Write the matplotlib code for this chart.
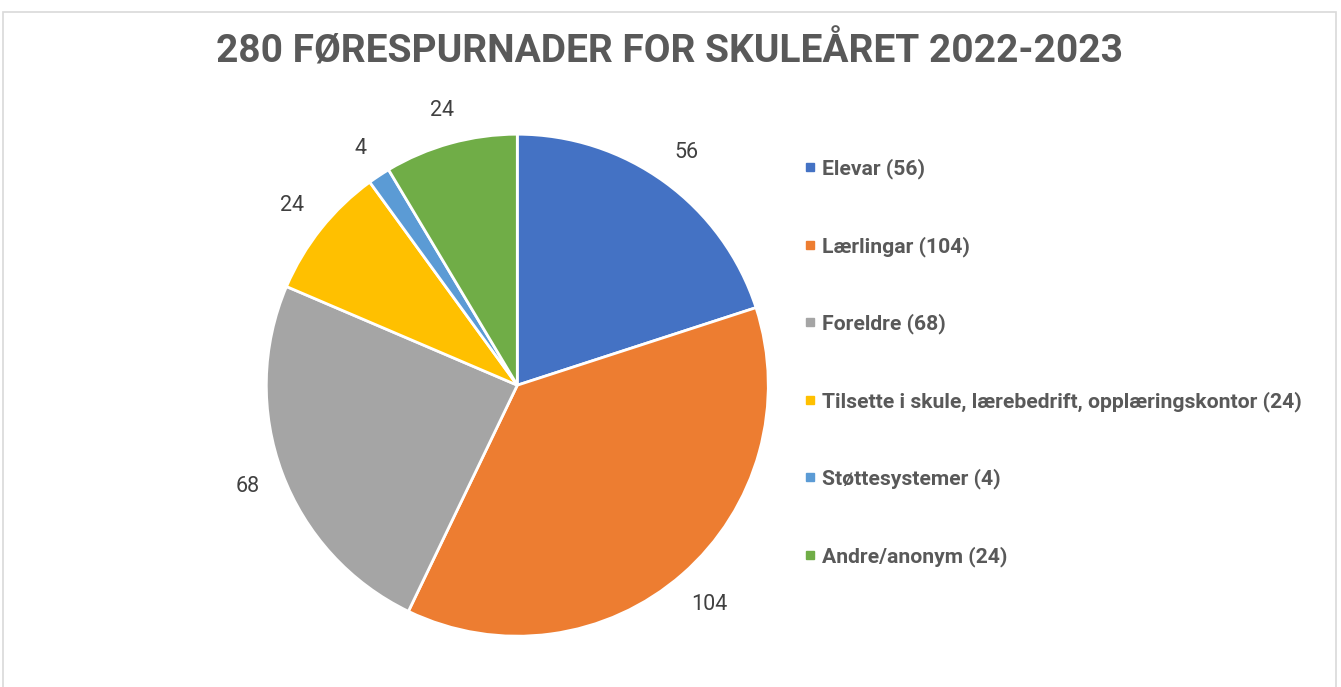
import numpy as np
import matplotlib.pyplot as plt
from matplotlib.patches import Rectangle
from matplotlib.lines import Line2D

plt.rcParams['font.family'] = ['Roboto', 'DejaVu Sans']

categories = ['Elevar', 'Lærlingar', 'Foreldre',
              'Tilsette i skule, lærebedrift, opplæringskontor',
              'Støttesystemer', 'Andre/anonym']
values = [56, 104, 68, 24, 4, 24]
colors = ['#4472C4', '#ED7D31', '#A5A5A5', '#FFC000', '#5B9BD5', '#70AD47']
title = '280 FØRESPURNADER FOR SKULEÅRET 2022-2023'

W, H = 1341, 687
fig = plt.figure(figsize=(W / 100, H / 100), dpi=100)

# light border around chart area
fig.patches.append(Rectangle((3 / W, -0.01), (1336 - 3) / W, (H - 12) / H + 0.01,
                             transform=fig.transFigure, fill=False,
                             edgecolor='#D9D9D9', linewidth=1.2))

cx, cy, r = 517.3, 385.2, 251
ax = fig.add_axes([(cx - r) / W, (H - cy - r) / H, 2 * r / W, 2 * r / H])
total = sum(values)
wedges, texts, autotexts = ax.pie(
    values, colors=colors, startangle=90, counterclock=False,
    wedgeprops=dict(edgecolor='white', linewidth=2),
    autopct=lambda p: f'{round(p * total / 100)}', pctdistance=1.13,
    textprops=dict(fontsize=15.5, color='#404040'))
ax.set_xlim(-1, 1)
ax.set_ylim(-1, 1)
ax.set_aspect('equal')

# push data labels out so their box sits a fixed gap outside the edge
fig.canvas.draw()
renderer = fig.canvas.get_renderer()
for w, t in zip(wedges, autotexts):
    ang = np.deg2rad((w.theta1 + w.theta2) / 2)
    bb = t.get_window_extent(renderer)
    hw, hh = bb.width / 2 / r, bb.height / 2 / r
    d = 1.09 + abs(np.cos(ang)) * hw + abs(np.sin(ang)) * hh * 0.8
    t.set_position((d * np.cos(ang), d * np.sin(ang)))

fig.text(670 / W, 1 - 51 / H, title, ha='center', va='center',
         fontsize=28, fontweight='bold', color='#595959')

handles = [Line2D([], [], marker='s', linestyle='none', markersize=6,
                  markerfacecolor=c, markeredgecolor=c) for c in colors]
leg = fig.legend(handles, [f'{c} ({v})' for c, v in zip(categories, values)],
                 loc='upper left', bbox_to_anchor=(795 / W, 1 - 150 / H),
                 frameon=False, labelspacing=2.69, handlelength=0.6,
                 handletextpad=0.3, borderaxespad=0,
                 prop=dict(size=15.2, weight='bold'))
for t in leg.get_texts():
    t.set_color('#595959')

fig.savefig('out.png', dpi=100, facecolor='white')
